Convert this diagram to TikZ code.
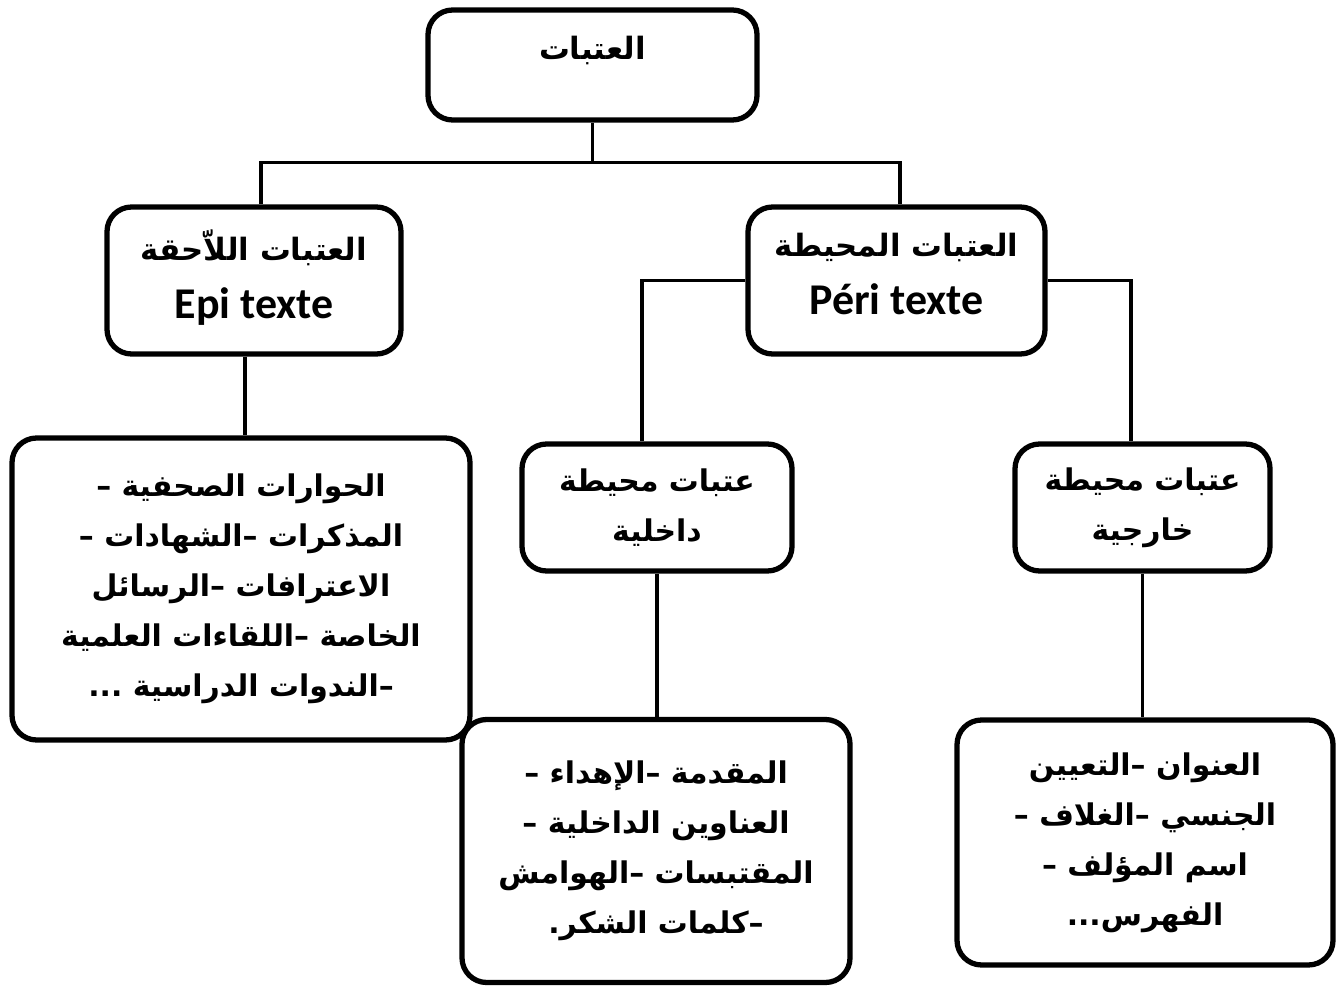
\documentclass[tikz,border=0pt]{standalone}
\usepackage{fontspec}
\setmainfont{Carlito}
\newfontfamily\arabicfont[Script=Arabic]{DejaVu Sans}
\TeXXeTstate=1
\usetikzlibrary{positioning,calc}
\newcommand{\artxt}[1]{{\arabicfont\bfseries\beginR #1\endR}}
\tikzset{
  tbox/.style={draw, line width=3pt, rounded corners=14pt, fill=white, align=center, inner sep=0pt},
  ltxt/.style={font=\fontsize{17}{28.45}\selectfont},
  htxt/.style={font=\fontsize{17.5}{33}\selectfont},
  link/.style={line width=2pt},
}

\begin{document}
\begin{tikzpicture}[x=1cm, y=1cm]
\useasboundingbox (0,0) rectangle (26.8,19.74);

% top level
\node[tbox, htxt, minimum width=6.58cm, minimum height=2.2cm, text height=0.5cm, text depth=0.7cm] (root) at (11.85,18.44) {\artxt{العتبات}};

% second level: epi / peri
\node[tbox, htxt, minimum width=5.88cm, minimum height=2.94cm, text depth=0.25cm] (epi) at (5.08,14.13)
  {\artxt{العتبات اللاّحقة}\\{\fontsize{25}{33}\selectfont\bfseries Epi texte}};
\node[tbox, htxt, minimum width=5.94cm, minimum height=2.94cm, text depth=0.25cm] (peri) at (17.93,14.13)
  {\artxt{العتبات المحيطة}\\{\fontsize{25}{33}\selectfont\bfseries Péri texte}};

% third level
\node[tbox, ltxt, minimum width=9.16cm, minimum height=6.04cm] (epilist) at (4.82,7.96)
  {\artxt{الحوارات الصحفية –}\\\artxt{المذكرات –الشهادات –}\\\artxt{الاعترافات –الرسائل}\\
   \artxt{الخاصة –اللقاءات العلمية}\\\artxt{–الندوات الدراسية ...}};
\node[tbox, ltxt, minimum width=5.4cm, minimum height=2.54cm] (inner) at (13.14,9.59)
  {\artxt{عتبات محيطة}\\\artxt{داخلية}};
\node[tbox, ltxt, minimum width=5.1cm, minimum height=2.54cm] (outer) at (22.85,9.59)
  {\artxt{عتبات محيطة}\\\artxt{خارجية}};

% fourth level
\node[tbox, ltxt, minimum width=7.76cm, minimum height=5.26cm] (innerlist) at (13.12,2.72)
  {\artxt{المقدمة –الإهداء –}\\\artxt{العناوين الداخلية –}\\\artxt{المقتبسات –الهوامش}\\\artxt{–كلمات الشكر.}};
\node[tbox, ltxt, minimum width=7.52cm, minimum height=4.9cm] (outerlist) at (22.9,2.89)
  {\artxt{العنوان –التعيين}\\\artxt{الجنسي –الغلاف –}\\\artxt{اسم المؤلف –}\\\artxt{الفهرس...}};

% connectors
\draw[link] (root.south) -- ++(0,-0.8) coordinate (split);
\draw[link] (split) -| ([xshift=0.14cm]epi.north);
\draw[link] (split) -| ([xshift=0.07cm]peri.north);
\draw[link] ([xshift=-0.18cm]epi.south) -- ([xshift=-0.18cm]epi.south |- epilist.north);
\draw[link] (peri.west) -| ([xshift=-0.3cm]inner.north);
\draw[link] (peri.east) -| ([xshift=-0.23cm]outer.north);
\draw[link] (inner.south) -- (inner.south |- innerlist.north);
\draw[link] (outer.south) -- (outer.south |- outerlist.north);
\end{tikzpicture}
\end{document}
